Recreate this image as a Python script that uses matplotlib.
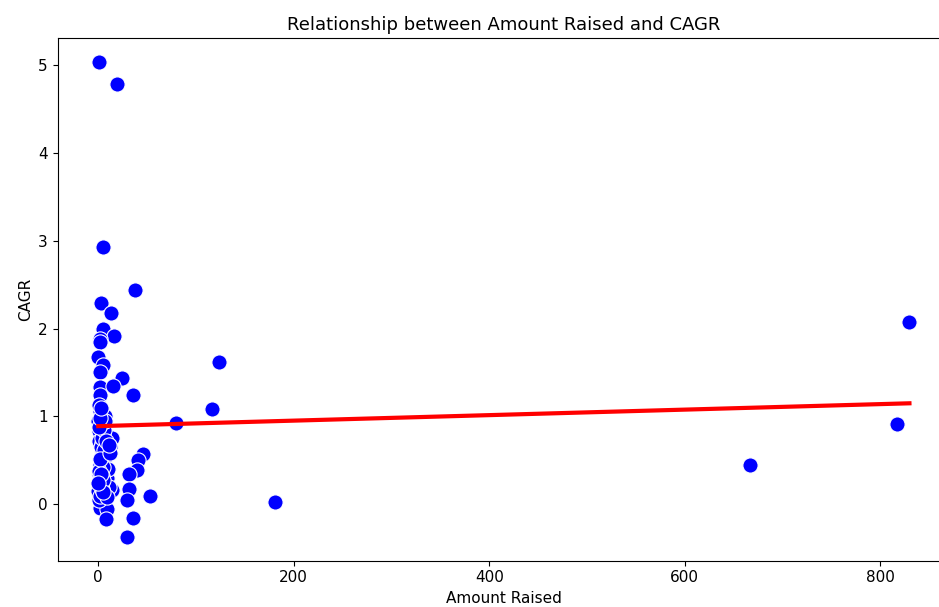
import matplotlib
matplotlib.use("Agg")
import matplotlib.pyplot as plt
import numpy as np

# Data
amount_raised = [
    1, 19, 4.8, 37.8, 2.7, 13, 4.8, 16.4, 1.5, 2.0, 0.0, 4.8, 1.5, 24, 1.4, 15, 36, 1.4,
    124, 116, 80, 2, 0.3, 14, 12, 0.3, 2, 46, 41, 0.0, 0.5, 2, 39.5, 31, 0.3, 14, 31, 53,
    29, 2, 9, 36, 8, 29, 181, 667, 817, 830,
    # dense cluster near zero
    0.5, 1.0, 1.5, 2.5, 3.0, 3.5, 4.0, 5.0, 6.0, 7.0, 0.2, 0.8, 1.2, 2.2, 3.2, 4.2,
    5.5, 6.5, 8.0, 9.0, 10.0, 11.0, 0.4, 1.8, 2.8, 3.8, 4.5, 6.0, 7.5, 0.6, 1.6, 2.6,
    3.6, 5.2, 0.9, 1.9, 12.0, 10.5, 8.5, 3.0, 5.0, 0.1,
]
cagr = [
    5.03, 4.78, 2.93, 2.44, 2.29, 2.18, 2.00, 1.91, 1.88, 1.85, 1.68, 1.58, 1.50, 1.44, 1.34, 1.35, 1.24, 1.24,
    1.62, 1.08, 0.93, 1.06, 0.83, 0.76, 0.65, 0.72, 0.50, 0.57, 0.50, 0.95, 1.13, 0.46, 0.39, 0.35, 0.26, 0.16, 0.18, 0.10,
    0.05, -0.04, -0.05, -0.15, -0.17, -0.37, 0.03, 0.45, 0.915, 2.07,
    0.12, 0.20, 0.30, 0.40, 0.55, 0.60, 0.70, 0.80, 0.90, 1.00, 0.15, 0.25, 0.35, 0.45, 0.65, 0.75,
    0.85, 0.95, 0.55, 0.30, 0.40, 0.20, 0.05, 0.10, 0.22, 0.32, 0.42, 0.62, 0.72, 0.88, 0.98, 1.10,
    0.18, 0.28, 0.38, 0.52, 0.58, 0.68, 0.08, 0.35, 0.14, 0.24,
]

# Regression line parameters
reg_intercept = 0.89
reg_slope = 0.000313

fig = plt.figure(figsize=(9.39, 6.07), dpi=100)
W, H = 939, 607
left, right, top, bottom = 57.7, 950, 38.3, 560.7
ax = fig.add_axes([left / W, (H - bottom) / H, (right - left) / W, (bottom - top) / H])

ax.scatter(amount_raised, cagr, s=120, color="blue", edgecolors="white", linewidths=0.8, zorder=2)

xs = np.array([min(amount_raised), max(amount_raised)])
ax.plot(xs, reg_intercept + reg_slope * xs, color="red", linewidth=3, zorder=3)

xmin, xmax = min(amount_raised), max(amount_raised)
ymin, ymax = min(cagr), max(cagr)
xr, yr = xmax - xmin, ymax - ymin
ax.set_xlim(xmin - 0.05 * xr, xmax + 0.05 * xr)
ax.set_ylim(ymin - 0.05 * yr, ymax + 0.05 * yr)
ax.set_xticks([0, 200, 400, 600, 800])
ax.set_yticks([0, 1, 2, 3, 4, 5])
ax.spines["right"].set_visible(False)
ax.tick_params(labelsize=11)

ax.set_title("Relationship between Amount Raised and CAGR", fontsize=13)
ax.set_xlabel("Amount Raised", fontsize=11)
ax.set_ylabel("CAGR", fontsize=11)

fig.savefig("out.png", dpi=100)
